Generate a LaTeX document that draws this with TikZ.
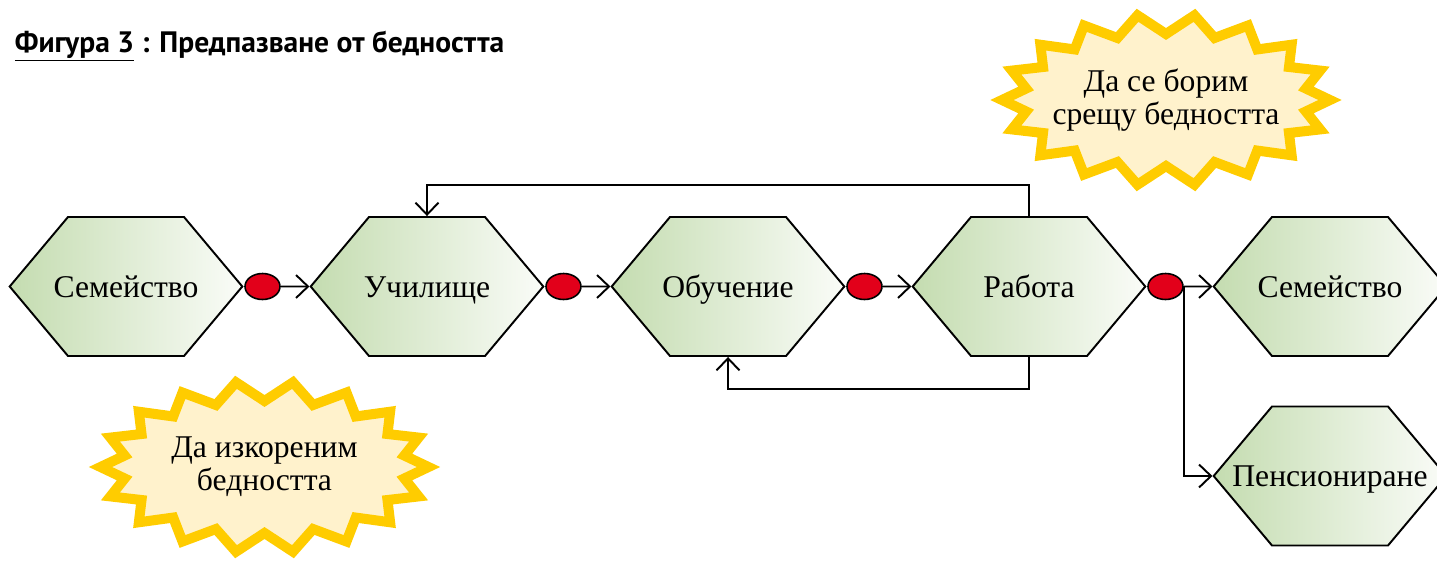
\documentclass[tikz,border=0pt]{standalone}
\usepackage{fontspec}
\setmainfont{Liberation Serif}
\newfontfamily\titlefont{PT Sans}
\usetikzlibrary{shapes.symbols,shapes.geometric,arrows.meta,positioning}
\definecolor{hexleft}{RGB}{196,220,176}
\definecolor{hexright}{RGB}{250,252,248}
\definecolor{dotred}{RGB}{226,0,26}
\definecolor{burstline}{RGB}{255,204,0}
\definecolor{burstfill}{RGB}{255,242,204}
\newcommand{\hx}[1]{\makebox[2.32cm]{#1}}

\begin{document}
\begin{tikzpicture}[node distance=6.02cm,auto,>={Straight Barb[length=0.24cm,width=0.46cm]},line width=1.1pt]
\tikzstyle{hexa}=[draw, signal, signal to=east and west, signal pointer angle=100, minimum width=4.64cm, minimum height=2.78cm, inner sep=0pt, text height=12pt, text depth=0pt, left color=hexleft, right color=hexright, font=\fontsize{18}{19}\selectfont]
\tikzstyle{dot}=[draw, ellipse, fill=dotred, minimum width=0.7cm, minimum height=0.52cm, inner sep=0pt, line width=0.9pt]
\tikzstyle{burst}=[draw=burstline, fill=burstfill, line width=0.2cm, line join=miter]
\tikzstyle{bursttext}=[align=center, font=\fontsize{18}{19}\selectfont]
\useasboundingbox (0,0) rectangle (28.74,-11.28);

\node (title) [anchor=base west] at (0.16,-1.04) {\titlefont\bfseries\fontsize{16.8}{20}\selectfont\underline{Фигура 3} : Предпазване от бедността};

\node (f1) [hexa] at (2.52,-5.73) {\hx{Семейство}};
\node (u) [right of=f1, hexa] {\hx{Училище}};
\node (o) [right of=u, hexa] {\hx{Обучение}};
\node (w) [right of=o, hexa] {\hx{Работа}};
\node (f2) [right of=w, hexa] {\hx{Семейство}};
\node (p) [below of=f2, node distance=3.79cm, hexa] {\hx{Пенсиониране}};

\node (d1) [right of=f1, node distance=2.73cm, dot] {};
\node (d2) [right of=u, node distance=2.73cm, dot] {};
\node (d3) [right of=o, node distance=2.73cm, dot] {};
\node (d4) [right of=w, node distance=2.73cm, dot] {};

\path[->] (d1) edge node {} (u);
\path[->] (d2) edge node {} (o);
\path[->] (d3) edge node {} (w);
\path[->] (d4) edge node {} (f2);
\draw[->] (d4.east) |- (p.west);

\draw[->] (w.north) -- ++(0,0.62) -| (u.north);
\draw[->] (w.south) -- ++(0,-0.64) -| (o.south);

% starbursts: 18 points on an ellipse
\coordinate (fightc) at (23.32,-2.0);
\coordinate (rootc) at (5.29,-9.34);
\draw[burst, shift={(fightc)}] (3.28,0)
  \foreach \k [evaluate=\k as \xr using {mod(\k,2)==0 ? 3.28 : 2.84}, evaluate=\k as \yr using {mod(\k,2)==0 ? 1.72 : 1.32}] in {1,...,35} { -- ({\xr*cos(\k*10)},{\yr*sin(\k*10)}) } -- cycle;
\draw[burst, shift={(rootc)}] (3.28,0)
  \foreach \k [evaluate=\k as \xr using {mod(\k,2)==0 ? 3.28 : 2.84}, evaluate=\k as \yr using {mod(\k,2)==0 ? 1.72 : 1.32}] in {1,...,35} { -- ({\xr*cos(\k*10)},{\yr*sin(\k*10)}) } -- cycle;
\node (fight) [bursttext] at (fightc) {Да се борим\\срещу бедността};
\node (root) [bursttext] at (rootc) {Да изкореним\\бедността};
\end{tikzpicture}
\end{document}
